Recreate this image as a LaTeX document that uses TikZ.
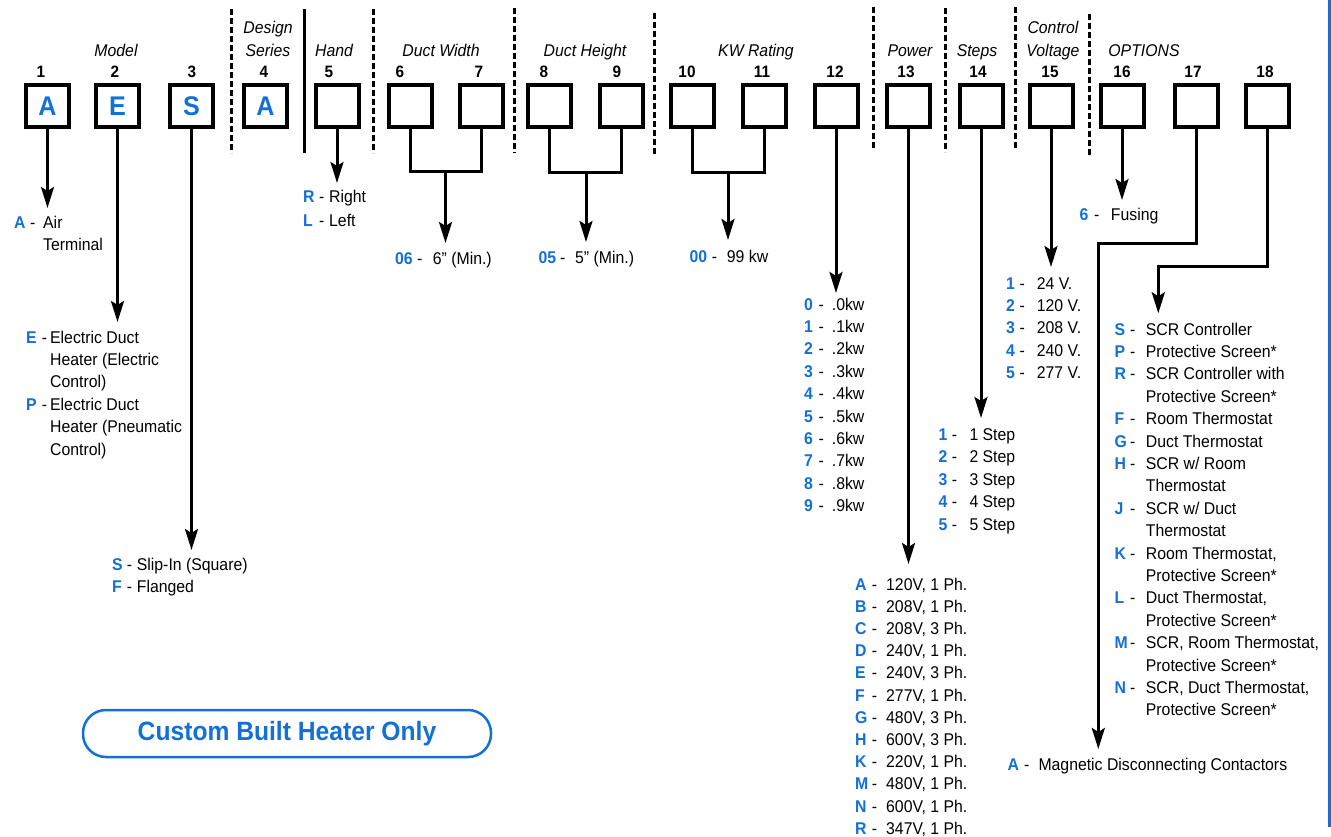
\documentclass[tikz,border=0pt]{standalone}
\usepackage{fontspec}
\setmainfont{Liberation Sans}[FakeStretch=0.93]
\usetikzlibrary{arrows.meta}
\definecolor{cblue}{RGB}{18,112,214}
\newcommand{\optl}[4]{\edef\optmp{#3}\makebox[#1pt][l]{\textcolor{cblue}{\bfseries #3}}\makebox[#2pt][l]{\ifx\optmp\empty\else-\fi}#4}
\tikzset{
  lbl/.style={inner sep=0pt, anchor=base west, font=\fontsize{17}{20}\selectfont},
  grp/.style={inner sep=0pt, anchor=base, font=\fontsize{17}{20}\selectfont\itshape},
  num/.style={inner sep=0pt, anchor=base, font=\fontsize{16.5}{19}\selectfont\bfseries},
  cbox/.style={draw, line width=4pt, minimum width=43pt, minimum height=42pt, inner sep=0pt,
    text=cblue, font=\fontsize{27}{30}\selectfont\bfseries},
  conn/.style={line width=3pt},
  arr/.style={conn, -{Stealth[length=21pt,width=13pt,inset=4pt]}},
  div/.style={line width=3pt, dash pattern=on 6pt off 3pt},
  sdiv/.style={line width=3pt}
}
\begin{document}
\begin{tikzpicture}[x=1pt,y=-1pt]
\useasboundingbox (0,0) rectangle (1331,837);
\fill[white] (0,0) rectangle (1331,837);
% right blue border
\draw[cblue, line width=3pt] (1329,0) -- (1329,827);
% dividers
\draw[div] (231,9) -- (231,153);
\draw[sdiv] (304,9) -- (304,153);
\draw[div] (373,9) -- (373,153);
\draw[div] (514,8) -- (514,153);
\draw[div] (654,13) -- (654,156);
\draw[div] (873,7) -- (873,150);
\draw[div] (945,8) -- (945,152);
\draw[div] (1015,7) -- (1015,150);
\draw[div] (1089,14) -- (1089,157);
% group labels
\node[grp] (gModel) at (116,56.5) {Model};
\node[grp] (gDesign) at (268,34) {Design};
\node[grp] (gSeries) at (268,56.5) {Series};
\node[grp] (gHand) at (334,56.5) {Hand};
\node[grp] (gDW) at (441,56.5) {Duct Width};
\node[grp] (gDH) at (585,56.5) {Duct Height};
\node[grp] (gKW) at (756,56.5) {KW Rating};
\node[grp] (gPow) at (910,56.5) {Power};
\node[grp] (gSteps) at (977,56.5) {Steps};
\node[grp] (gCtl) at (1053,34) {Control};
\node[grp] (gVolt) at (1053,56.5) {Voltage};
\node[grp] (gOpt) at (1144,56.5) {OPTIONS};
% numbers
\foreach \x [count=\i] in {41,115,192,264,329,400,479,544,617,687,762,835,906,978,1050,1122,1193,1265}
  \node[num] (n\i) at (\x,78) {\i};
% boxes
\foreach \x/\t [count=\i] in {47.5/A,117.5/E,191.5/S,265.5/A,337/,410/,481/,549/,621/,692/,764/,836/,908.5/,981/,1051/,1122/,1196/,1267.5/}
  \node[cbox] (b\i) at (\x,106) {\t};
% arrow end coordinates
\coordinate (t1) at (47.5,208);
\coordinate (t2) at (117.5,322);
\coordinate (t3) at (191.5,550);
\coordinate (t5) at (337,183);
\coordinate (j67) at (445.5,172);
\coordinate (t67) at (445.5,243);
\coordinate (j89) at (586,173);
\coordinate (t89) at (586,242);
\coordinate (j1011) at (728,173);
\coordinate (t1011) at (728,240);
\coordinate (t12) at (836,293);
\coordinate (t13) at (908.5,564);
\coordinate (t14) at (981,418);
\coordinate (t15) at (1051,267);
\coordinate (t16) at (1122,200);
\coordinate (k17) at (1098.3,243.3);
\coordinate (t17) at (1098.3,749);
\coordinate (k18) at (1158.3,266.7);
\coordinate (t18) at (1158.3,313.3);
% connectors
\draw[arr] (b1.south) -- (t1);
\draw[arr] (b2.south) -- (t2);
\draw[arr] (b3.south) -- (t3);
\draw[arr] (b5.south) -- (t5);
\draw[conn] (b6.south) |- (j67) -| (b7.south);
\draw[arr] (j67) -- (t67);
\draw[conn] (b8.south) |- (j89) -| (b9.south);
\draw[arr] (j89) -- (t89);
\draw[conn] (b10.south) |- (j1011) -| (b11.south);
\draw[arr] (j1011) -- (t1011);
\draw[arr] (b12.south) -- (t12);
\draw[arr] (b13.south) -- (t13);
\draw[arr] (b14.south) -- (t14);
\draw[arr] (b15.south) -- (t15);
\draw[arr] (b16.south) -- (t16);
\draw[arr] (b17.south) |- (k17) -- (t17);
\draw[arr] (b18.south) |- (k18) -- (t18);
% labels
\foreach \l/\t [count=\i from 0] in {A/Air,/Terminal}
  \node[lbl] (la\i) at (14,228.3+\i*22) {\optl{16}{13}{\l}{\t}};
\foreach \l/\t [count=\i from 0] in {E/{Electric Duct},/{Heater (Electric},/{Control)},P/{Electric Duct},/{Heater (Pneumatic},/{Control)}}
  \node[lbl] (le\i) at (26,343+\i*22.4) {\optl{15.7}{8.3}{\l}{\t}};
\foreach \l/\t [count=\i from 0] in {S/{Slip-In (Square)},F/Flanged}
  \node[lbl] (ls\i) at (112,570+\i*22.7) {\optl{14.7}{10}{\l}{\t}};
\foreach \l/\t [count=\i from 0] in {R/Right,L/Left}
  \node[lbl] (lh\i) at (303,203+\i*23.6) {\optl{16}{10}{\l}{\t}};
\node[lbl] (lw) at (395,265) {\optl{22}{15.7}{06}{6” (Min.)}};
\node[lbl] (lht) at (538.3,263.5) {\optl{21.7}{15}{05}{5” (Min.)}};
\node[lbl] (lkw) at (689.3,262) {\optl{22.4}{15}{00}{99 kw}};
\foreach \l/\t [count=\i from 0] in {0/.0kw,1/.1kw,2/.2kw,3/.3kw,4/.4kw,5/.5kw,6/.6kw,7/.7kw,8/.8kw,9/.9kw}
  \node[lbl] (lk\i) at (804,310+\i*22.4) {\optl{14.3}{13.4}{\l}{\t}};
\foreach \l/\t [count=\i from 0] in {A/{120V, 1 Ph.},B/{208V, 1 Ph.},C/{208V, 3 Ph.},D/{240V, 1 Ph.},E/{240V, 3 Ph.},F/{277V, 1 Ph.},G/{480V, 3 Ph.},H/{600V, 3 Ph.},K/{220V, 1 Ph.},M/{480V, 1 Ph.},N/{600V, 1 Ph.},R/{347V, 1 Ph.}}
  \node[lbl] (lp\i) at (855,590+\i*22.2) {\optl{16.7}{14.3}{\l}{\t}};
\foreach \l/\t [count=\i from 0] in {1/1 Step,2/2 Step,3/3 Step,4/4 Step,5/5 Step}
  \node[lbl] (lst\i) at (938.3,440+\i*22.5) {\optl{13.4}{17.6}{\l}{\t}};
\foreach \l/\t [count=\i from 0] in {1/24 V.,2/120 V.,3/208 V.,4/240 V.,5/277 V.}
  \node[lbl] (lv\i) at (1006,289.3+\i*22.25) {\optl{13.3}{17.4}{\l}{\t}};
\node[lbl] (lf) at (1079.3,220.7) {\optl{14.7}{16.7}{6}{Fusing}};
\foreach \l/\t [count=\i from 0] in {S/{SCR Controller},P/{Protective Screen*},R/{SCR Controller with},/{Protective Screen*},F/{Room Thermostat},G/{Duct Thermostat},H/{SCR w/ Room},/{Thermostat},J/{SCR w/ Duct},/{Thermostat},K/{Room Thermostat,},/{Protective Screen*},L/{Duct Thermostat,},/{Protective Screen*},M/{SCR, Room Thermostat,},/{Protective Screen*},N/{SCR, Duct Thermostat,},/{Protective Screen*}}
  \node[lbl] (lo\i) at (1114.3,335+\i*22.4) {\optl{15.7}{15.7}{\l}{\t}};
\node[lbl] (lm) at (1007.3,770.7) {\optl{16.7}{14.3}{A}{Magnetic Disconnecting Contactors}};
% custom box
\node[draw=cblue, line width=2.5pt, rounded corners=23pt, minimum width=408pt, minimum height=47pt,
  inner sep=0pt, text=cblue, font=\fontsize{26.5}{30}\selectfont\bfseries] (custom) at (287,733.5) {Custom Built Heater Only};
\end{tikzpicture}
\end{document}
